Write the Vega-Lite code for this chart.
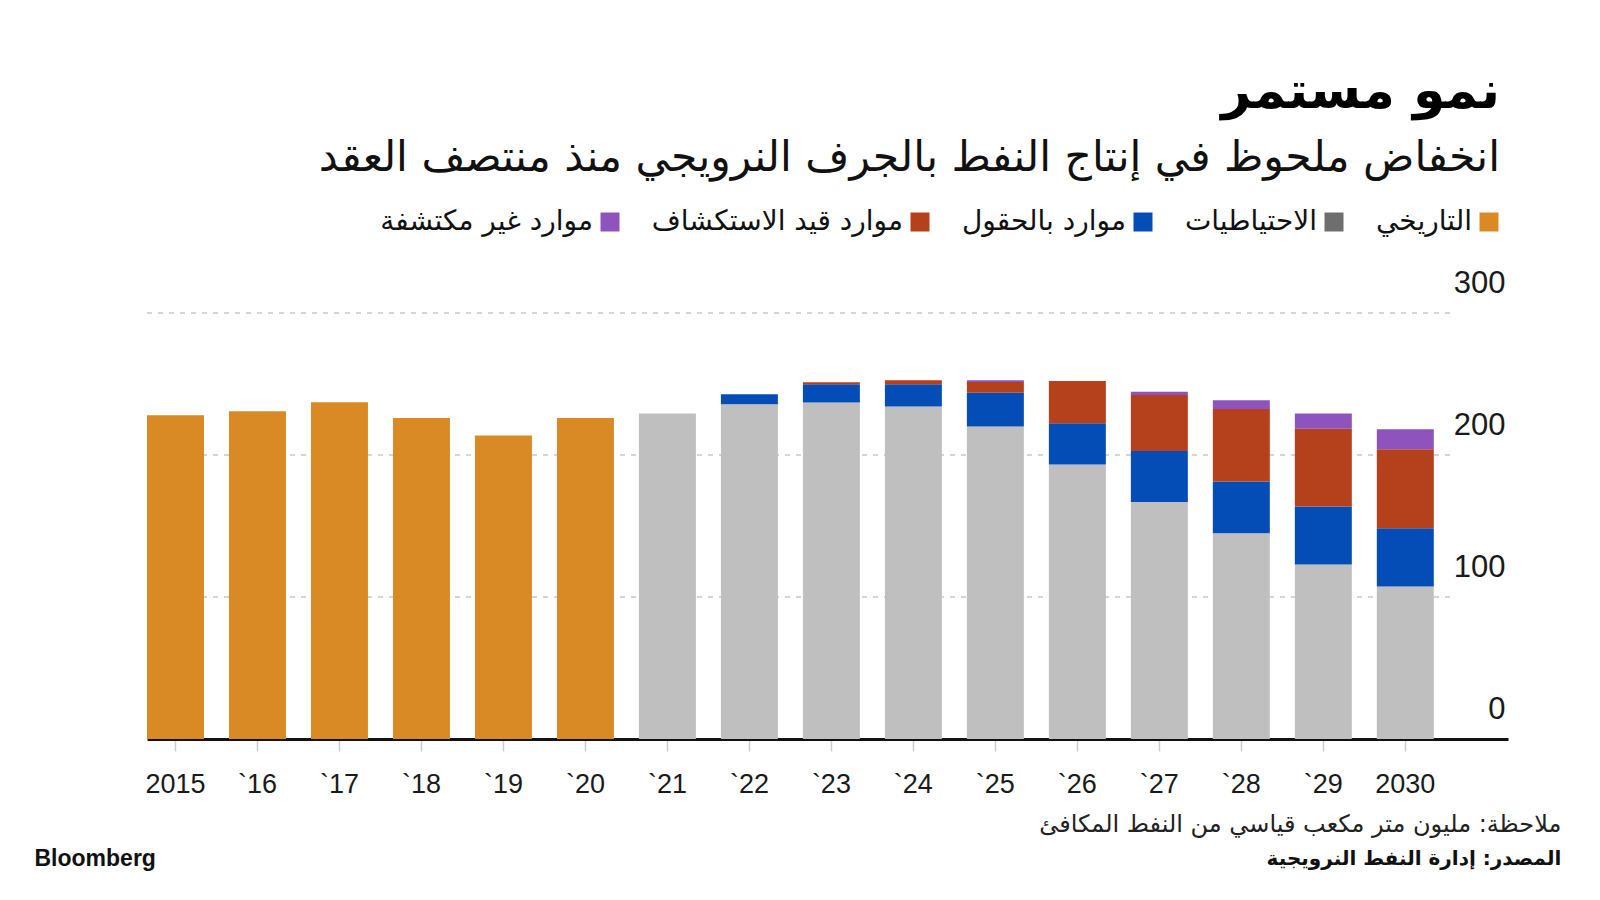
{
  "$schema": "https://vega.github.io/schema/vega-lite/v6.json",
  "width": 1361,
  "height": 426,
  "autosize": {"type": "none"},
  "padding": {"left": 147, "top": 313, "right": 92, "bottom": 161},
  "background": "#ffffff",
  "title": {
    "text": "نمو مستمر",
    "subtitle": "انخفاض ملحوظ في إنتاج النفط بالجرف النرويجي منذ منتصف العقد",
    "anchor": "end",
    "frame": "group",
    "font": "DejaVu Sans",
    "fontSize": 52,
    "fontWeight": "bold",
    "color": "#000000",
    "subtitleFont": "DejaVu Sans",
    "subtitleFontSize": 42.5,
    "subtitleColor": "#111111",
    "subtitlePadding": 18,
    "offset": 28,
    "dx": -8
  },
  "datasets": {
    "bars": [
      {"year": "2015", "cat": "التاريخي", "ord": 0, "value": 228.0},
      {"year": "`16", "cat": "التاريخي", "ord": 0, "value": 230.8},
      {"year": "`17", "cat": "التاريخي", "ord": 0, "value": 237.1},
      {"year": "`18", "cat": "التاريخي", "ord": 0, "value": 226.1},
      {"year": "`19", "cat": "التاريخي", "ord": 0, "value": 213.7},
      {"year": "`20", "cat": "التاريخي", "ord": 0, "value": 226.1},
      {"year": "`21", "cat": "الاحتياطيات", "ord": 0, "value": 229.2},
      {"year": "`22", "cat": "الاحتياطيات", "ord": 0, "value": 235.7},
      {"year": "`22", "cat": "موارد بالحقول", "ord": 1, "value": 7.1},
      {"year": "`23", "cat": "الاحتياطيات", "ord": 0, "value": 236.9},
      {"year": "`23", "cat": "موارد بالحقول", "ord": 1, "value": 12.9},
      {"year": "`23", "cat": "موارد قيد الاستكشاف", "ord": 2, "value": 1.4},
      {"year": "`24", "cat": "الاحتياطيات", "ord": 0, "value": 234.1},
      {"year": "`24", "cat": "موارد بالحقول", "ord": 1, "value": 15.7},
      {"year": "`24", "cat": "موارد قيد الاستكشاف", "ord": 2, "value": 2.8},
      {"year": "`25", "cat": "الاحتياطيات", "ord": 0, "value": 220.0},
      {"year": "`25", "cat": "موارد بالحقول", "ord": 1, "value": 23.9},
      {"year": "`25", "cat": "موارد قيد الاستكشاف", "ord": 2, "value": 7.5},
      {"year": "`25", "cat": "موارد غير مكتشفة", "ord": 3, "value": 1.2},
      {"year": "`26", "cat": "الاحتياطيات", "ord": 0, "value": 193.3},
      {"year": "`26", "cat": "موارد بالحقول", "ord": 1, "value": 29.1},
      {"year": "`26", "cat": "موارد قيد الاستكشاف", "ord": 2, "value": 29.7},
      {"year": "`27", "cat": "الاحتياطيات", "ord": 0, "value": 166.9},
      {"year": "`27", "cat": "موارد بالحقول", "ord": 1, "value": 36.0},
      {"year": "`27", "cat": "موارد قيد الاستكشاف", "ord": 2, "value": 39.4},
      {"year": "`27", "cat": "موارد غير مكتشفة", "ord": 3, "value": 2.3},
      {"year": "`28", "cat": "الاحتياطيات", "ord": 0, "value": 144.9},
      {"year": "`28", "cat": "موارد بالحقول", "ord": 1, "value": 36.5},
      {"year": "`28", "cat": "موارد قيد الاستكشاف", "ord": 2, "value": 51.0},
      {"year": "`28", "cat": "موارد غير مكتشفة", "ord": 3, "value": 6.1},
      {"year": "`29", "cat": "الاحتياطيات", "ord": 0, "value": 122.9},
      {"year": "`29", "cat": "موارد بالحقول", "ord": 1, "value": 40.9},
      {"year": "`29", "cat": "موارد قيد الاستكشاف", "ord": 2, "value": 54.6},
      {"year": "`29", "cat": "موارد غير مكتشفة", "ord": 3, "value": 10.8},
      {"year": "2030", "cat": "الاحتياطيات", "ord": 0, "value": 107.4},
      {"year": "2030", "cat": "موارد بالحقول", "ord": 1, "value": 41.0},
      {"year": "2030", "cat": "موارد قيد الاستكشاف", "ord": 2, "value": 55.7},
      {"year": "2030", "cat": "موارد غير مكتشفة", "ord": 3, "value": 14.1}
    ],
    "grid": [
      {"value": 100},
      {"value": 200},
      {"value": 300}
    ],
    "one": [{}]
  },
  "data": {"name": "bars"},
  "encoding": {
    "x": {
      "field": "year",
      "type": "ordinal",
      "sort": null,
      "scale": {
        "domain": ["2015", "`16", "`17", "`18", "`19", "`20", "`21", "`22", "`23", "`24", "`25", "`26", "`27", "`28", "`29", "2030"],
        "paddingInner": 0.305,
        "paddingOuter": 0.4525,
        "align": 0
      },
      "axis": {
        "title": null,
        "labelAngle": 0,
        "labelFont": "Liberation Sans",
        "labelFontSize": 27,
        "labelColor": "#1a1a1a",
        "labelBaseline": "alphabetic",
        "labelPadding": 41,
        "tickSize": 12,
        "tickColor": "#cccccc",
        "tickWidth": 1.5,
        "domainColor": "#111111",
        "domainWidth": 3,
        "grid": false
      }
    }
  },
  "layer": [
    {
      "data": {"name": "grid"},
      "mark": {"type": "rule", "color": "#c8c8c8", "strokeDash": [5, 6], "strokeWidth": 1.5},
      "encoding": {
        "x": {"datum": "2015", "type": "ordinal", "bandPosition": 0},
        "x2": {"datum": "2030", "bandPosition": 1.38},
        "y": {"field": "value", "type": "quantitative"}
      }
    },
    {
      "mark": {"type": "bar"},
      "encoding": {
        "y": {
          "field": "value",
          "type": "quantitative",
          "stack": "zero",
          "scale": {"domain": [0, 300], "nice": false, "zero": true},
          "axis": {
            "orient": "right",
            "title": null,
            "values": [0, 100, 200, 300],
            "domain": false,
            "ticks": false,
            "labelFont": "Liberation Sans",
            "labelFontSize": 31,
            "labelColor": "#1a1a1a",
            "labelAlign": "right",
            "labelBaseline": "alphabetic",
            "labelPadding": -3,
            "labelOffset": -21,
            "grid": false
          }
        },
        "fill": {
          "condition": {"test": "datum.cat === 'الاحتياطيات'", "value": "#bfbfbf"},
          "field": "cat",
          "type": "nominal",
          "scale": {
            "domain": ["موارد غير مكتشفة", "موارد قيد الاستكشاف", "موارد بالحقول", "الاحتياطيات", "التاريخي"],
            "range": ["#8e53bd", "#b4401c", "#054db6", "#6e6e6e", "#da8a24"]
          },
          "legend": {
            "orient": "none",
            "legendX": 449,
            "legendY": -105,
            "direction": "horizontal",
            "title": null,
            "symbolType": "square",
            "symbolSize": 361,
            "symbolStrokeWidth": 0,
            "symbolOpacity": 1,
            "labelFont": "DejaVu Sans",
            "labelFontSize": 28,
            "labelColor": "#111111",
            "labelAlign": "right",
            "labelOffset": -31,
            "columnPadding": 31,
            "labelLimit": 0,
            "padding": 0
          }
        },
        "order": {"field": "ord", "type": "quantitative", "sort": "ascending"}
      }
    },
    {
      "data": {"name": "one"},
      "mark": {"type": "text", "align": "right", "baseline": "middle", "font": "DejaVu Sans", "fontSize": 24, "color": "#222222", "dx": 156, "text": "ملاحظة: مليون متر مكعب قياسي من النفط المكافئ"},
      "encoding": {"x": {"datum": "2030", "type": "ordinal"}, "y": {"datum": -60.6, "type": "quantitative"}}
    },
    {
      "data": {"name": "one"},
      "mark": {"type": "text", "align": "right", "baseline": "middle", "font": "DejaVu Sans", "fontSize": 20, "fontWeight": "bold", "color": "#111111", "dx": 156, "text": "المصدر: إدارة النفط النرويجية"},
      "encoding": {"x": {"datum": "2030", "type": "ordinal"}, "y": {"datum": -84.3, "type": "quantitative"}}
    },
    {
      "data": {"name": "one"},
      "mark": {"type": "text", "align": "left", "baseline": "middle", "font": "Liberation Sans", "fontSize": 23, "fontWeight": "bold", "color": "#111111", "dx": -141, "text": "Bloomberg"},
      "encoding": {"x": {"datum": "2015", "type": "ordinal"}, "y": {"datum": -84.3, "type": "quantitative"}}
    }
  ],
  "config": {
    "view": {"stroke": null}
  }
}
